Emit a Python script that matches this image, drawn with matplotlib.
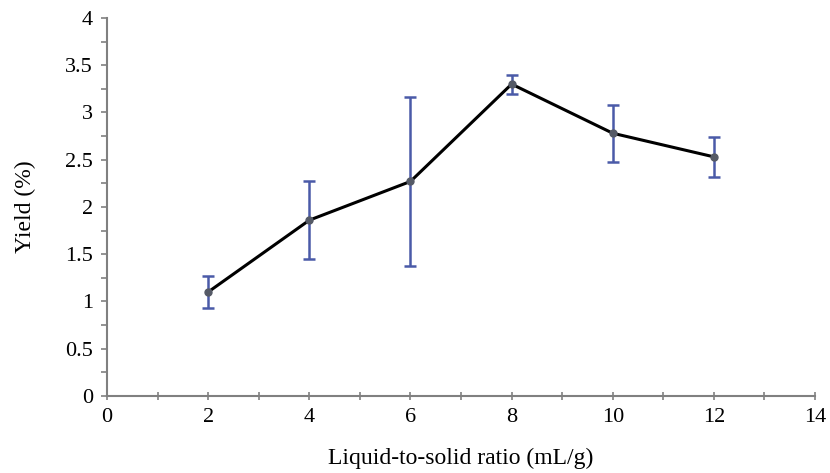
import matplotlib
matplotlib.use('Agg')
import matplotlib.pyplot as plt
from matplotlib.ticker import MultipleLocator, FormatStrFormatter

# data
ratio = [2, 4, 6, 8, 10, 12]
yield_pct = [1.10, 1.86, 2.27, 3.30, 2.78, 2.53]
yield_err = [0.17, 0.41, 0.89, 0.10, 0.30, 0.21]

plt.rcParams['font.family'] = ['Liberation Serif', 'DejaVu Serif']

fig = plt.figure(figsize=(8.3, 4.73), dpi=100)
ax = fig.add_axes([0.129, 0.163, 0.853, 0.799])

ax.errorbar(ratio, yield_pct, yerr=yield_err, fmt='none', ecolor='#4a5aa8',
            elinewidth=1.8, capsize=4, capthick=1.8, zorder=2)
ax.plot(ratio, yield_pct, color='black', linewidth=2.2, marker='o',
        markersize=5, markerfacecolor='#555a66', markeredgecolor='#555a66', zorder=3)

ax.set_xlim(0, 14)
ax.set_ylim(0, 4)
ax.xaxis.set_major_locator(MultipleLocator(2))
ax.xaxis.set_minor_locator(MultipleLocator(1))
ax.yaxis.set_major_locator(MultipleLocator(0.5))
ax.yaxis.set_minor_locator(MultipleLocator(0.25))
ax.yaxis.set_major_formatter(FormatStrFormatter('%g'))

for s in ['top', 'right']:
    ax.spines[s].set_visible(False)
for s in ['left', 'bottom']:
    ax.spines[s].set_color('#808080')
    ax.spines[s].set_linewidth(1.5)

ax.tick_params(which='both', colors='#808080', width=1.2, labelcolor='black', labelsize=16)
ax.tick_params(axis='y', which='both', length=4, pad=6)
ax.tick_params(axis='x', which='both', length=6, direction='inout', pad=6)

ax.set_xlabel('Liquid-to-solid ratio (mL/g)', fontsize=17, labelpad=15)
ax.set_ylabel('Yield (%)', fontsize=17, labelpad=21)

fig.savefig('out.png', dpi=100)
